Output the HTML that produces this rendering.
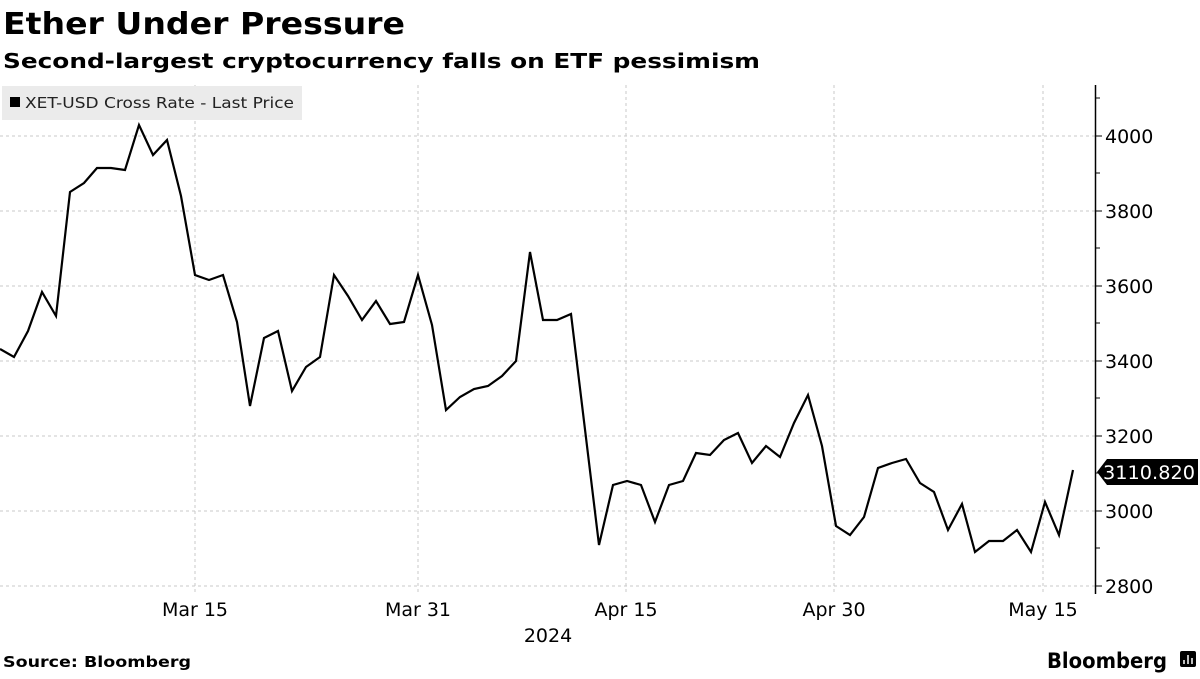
<!DOCTYPE html><html><head><meta charset="utf-8"><style>body{margin:0;width:1200px;height:675px;background:#fff;overflow:hidden;font-family:"DejaVu Sans",sans-serif}</style></head><body>
<svg width="1200" height="675" xmlns="http://www.w3.org/2000/svg" font-family="DejaVu Sans, sans-serif">
<text x="3" y="34" font-size="30" font-weight="bold" textLength="402" lengthAdjust="spacingAndGlyphs">Ether Under Pressure</text>
<text x="3" y="68" font-size="20" font-weight="bold" textLength="757" lengthAdjust="spacingAndGlyphs">Second-largest cryptocurrency falls on ETF pessimism</text>
<g stroke="#c8c8c8" stroke-dasharray="3,3" stroke-width="1">
<line x1="0" x2="1095" y1="136" y2="136"/><line x1="0" x2="1095" y1="211" y2="211"/><line x1="0" x2="1095" y1="286" y2="286"/><line x1="0" x2="1095" y1="361" y2="361"/><line x1="0" x2="1095" y1="436" y2="436"/><line x1="0" x2="1095" y1="511" y2="511"/><line x1="0" x2="1095" y1="586" y2="586"/>
<line x1="195" x2="195" y1="85" y2="594"/><line x1="418" x2="418" y1="85" y2="594"/><line x1="626" x2="626" y1="85" y2="594"/><line x1="834" x2="834" y1="85" y2="594"/><line x1="1043" x2="1043" y1="85" y2="594"/>
</g>
<rect x="2" y="86" width="300" height="34" fill="#ebebeb"/>
<rect x="10" y="97" width="10" height="10" fill="#000"/>
<text x="25" y="108" font-size="15" fill="#222" textLength="269" lengthAdjust="spacingAndGlyphs">XET-USD Cross Rate - Last Price</text>
<line x1="1095.5" x2="1095.5" y1="85" y2="594" stroke="#000" stroke-width="1.5"/>
<g stroke="#000"><line x1="1095" x2="1102" y1="136" y2="136"/><line x1="1095" x2="1102" y1="211" y2="211"/><line x1="1095" x2="1102" y1="286" y2="286"/><line x1="1095" x2="1102" y1="361" y2="361"/><line x1="1095" x2="1102" y1="436" y2="436"/><line x1="1095" x2="1102" y1="511" y2="511"/><line x1="1095" x2="1102" y1="586" y2="586"/>
<line x1="1095" x2="1100" y1="98" y2="98"/><line x1="1095" x2="1100" y1="173" y2="173"/><line x1="1095" x2="1100" y1="248" y2="248"/><line x1="1095" x2="1100" y1="323" y2="323"/><line x1="1095" x2="1100" y1="398" y2="398"/><line x1="1095" x2="1100" y1="473" y2="473"/><line x1="1095" x2="1100" y1="548" y2="548"/></g>
<g font-size="19" fill="#000"><text x="1105" y="143">4000</text><text x="1105" y="218">3800</text><text x="1105" y="293">3600</text><text x="1105" y="368">3400</text><text x="1105" y="443">3200</text><text x="1105" y="518">3000</text><text x="1105" y="593">2800</text></g>
<g font-size="19" fill="#000" text-anchor="middle"><text x="195" y="616">Mar 15</text><text x="418" y="616">Mar 31</text><text x="626" y="616">Apr 15</text><text x="834" y="616">Apr 30</text><text x="1043" y="616">May 15</text><text x="548" y="642">2024</text></g>
<polyline fill="none" stroke="#000" stroke-width="2.2" points="0,349 14,357 28,331 42,292 56,316 70,192 84,183 97,168 111,168 125,170 139,125 153,155 167,140 181,196 195,275 209,280 223,275 237,322 250,406 264,338 278,331 292,391 306,367 320,357 334,275 348,296 362,320 376,301 390,324 404,322 418,275 432,325 446,410 460,397 474,389 488,386 502,376 516,361 530,252 543,320 557,320 571,314 599,545 613,485 627,481 641,485 655,522 669,485 683,481 696,453 710,455 724,440 738,433 752,463 766,446 780,457 794,423 808,395 822,446 836,526 850,535 864,517 878,468 892,463 906,459 920,483 934,492 948,530 962,504 975,552 989,541 1003,541 1017,530 1031,552 1045,502 1059,535 1073,470"/>
<polygon points="1097,472 1107,459 1198,459 1198,485 1107,485" fill="#000"/>
<text x="1103" y="479" font-size="19" fill="#fff" textLength="92" lengthAdjust="spacingAndGlyphs">3110.820</text>
<text x="3" y="667" font-size="15" font-weight="bold" textLength="188" lengthAdjust="spacingAndGlyphs">Source: Bloomberg</text>
<text x="1167" y="668" font-size="21" font-weight="bold" text-anchor="end" textLength="120" lengthAdjust="spacingAndGlyphs">Bloomberg</text>
<rect x="1180" y="651" width="16" height="16" rx="2" fill="#000"/>
<g stroke="#fff" stroke-width="1.5"><line x1="1184" x2="1184" y1="660" y2="664"/><line x1="1188" x2="1188" y1="655" y2="664"/><line x1="1192" x2="1192" y1="658" y2="664"/></g>
</svg></body></html>
